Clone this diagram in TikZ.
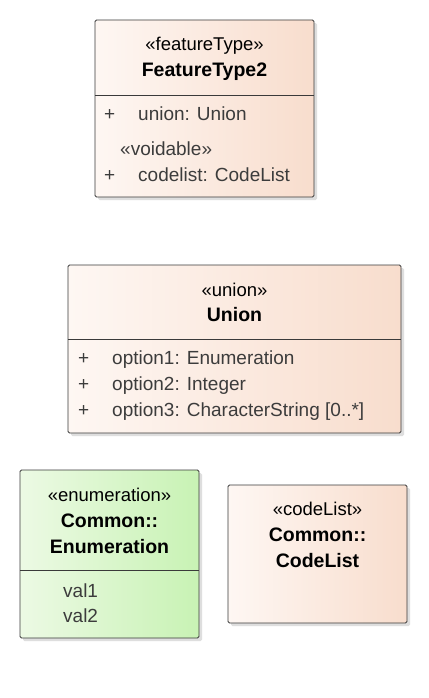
\documentclass[tikz,border=0pt]{standalone}
\usepackage{fontspec}
\setmainfont{Liberation Sans}
\usetikzlibrary{shadows}
\definecolor{peachL}{HTML}{FEF7F3}
\definecolor{peachR}{HTML}{F8DDCD}
\definecolor{greenL}{HTML}{ECFAE4}
\definecolor{greenR}{HTML}{C8F2B4}
\definecolor{bordc}{HTML}{3A3A3A}
\definecolor{attc}{HTML}{3C3C3C}
\tikzset{
  x=1pt, y=-1pt,
  umlbox/.style={draw=bordc, line width=0.9pt, rounded corners=1.5pt,
    drop shadow={shadow xshift=3pt, shadow yshift=-3pt, fill=black!25, opacity=0.5}},
  peach/.style={umlbox, left color=peachL, right color=peachR},
  greenbox/.style={umlbox, left color=greenL, right color=greenR},
  sep/.style={draw=bordc, line width=0.9pt},
  stereo/.style={anchor=base, inner sep=0pt, font=\fontsize{18.5}{20}\selectfont, text=black},
  cname/.style={anchor=base, inner sep=0pt, font=\fontsize{19.5}{21}\selectfont\bfseries, text=black},
  attr/.style={anchor=base west, inner sep=0pt, font=\fontsize{19}{21}\selectfont, text=attc},
}
\begin{document}
\begin{tikzpicture}
\useasboundingbox[fill=white] (0,0) rectangle (428,698);
% FeatureType2
\path[peach] (95,20) rectangle (314,197);
\coordinate (f1) at (95,95); \coordinate (f2) at (314,95);
\draw[sep] (f1) -- (f2);
\node[stereo] (ftst) at (204.5,51) {«featureType»};
\node[cname] (ftnm) at (204.5,77) {FeatureType2};
\node[attr] (ftp1) at (104,121) {+};
\node[attr] (fta1) at (138,121) {union: Union};
\node[attr] (ftvo) at (120,155) {«voidable»};
\node[attr] (ftp2) at (104,181) {+};
\node[attr] (fta2) at (138,181) {codelist: CodeList};
% Union
\path[peach] (68,265) rectangle (401,433);
\coordinate (u1) at (68,339); \coordinate (u2) at (401,339);
\draw[sep] (u1) -- (u2);
\node[stereo] (unst) at (234.5,296) {«union»};
\node[cname] (unnm) at (234.5,321) {Union};
\node[attr] (unp1) at (78,364) {+};
\node[attr] (una1) at (112,364) {option1: Enumeration};
\node[attr] (unp2) at (78,390) {+};
\node[attr] (una2) at (112,390) {option2: Integer};
\node[attr] (unp3) at (78,416) {+};
\node[attr] (una3) at (112,416) {option3: CharacterString [0..*]};
% Enumeration
\path[greenbox] (20,470) rectangle (199,638);
\coordinate (e1) at (20,570); \coordinate (e2) at (199,570);
\draw[sep] (e1) -- (e2);
\node[stereo] (enst) at (109.5,501) {«enumeration»};
\node[cname] (ennm1) at (109.5,527) {Common::};
\node[cname] (ennm2) at (109.5,553) {Enumeration};
\node[attr] (env1) at (63,597) {val1};
\node[attr] (env2) at (63,622) {val2};
% CodeList
\path[peach] (228,485) rectangle (407,623);
\node[stereo] (clst) at (317.5,515) {«codeList»};
\node[cname] (clnm1) at (317.5,541) {Common::};
\node[cname] (clnm2) at (317.5,567) {CodeList};
\end{tikzpicture}
\end{document}
